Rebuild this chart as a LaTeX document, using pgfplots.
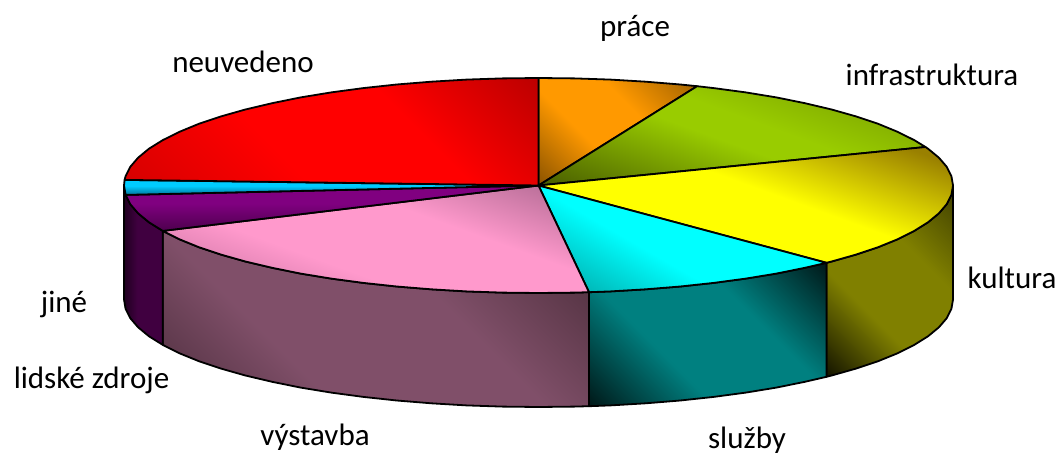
\documentclass[border=0pt]{standalone}
\usepackage{pgfplots}
\pgfplotsset{compat=1.18}
\usepackage{fontspec}
\setmainfont{Carlito}
% multi-stop shadings, lower left to upper right
\pgfdeclareverticalshading{sred}{100bp}{rgb(0bp)=(.84,0,0);rgb(15bp)=(.84,0,0);rgb(40bp)=(1,0,0);rgb(62bp)=(1,0,0);rgb(85bp)=(.74,0,0);rgb(100bp)=(.74,0,0)}
\pgfdeclareverticalshading{sorange}{100bp}{rgb(0bp)=(.55,.33,0);rgb(15bp)=(.55,.33,0);rgb(40bp)=(1,.6,0);rgb(60bp)=(1,.6,0);rgb(85bp)=(.62,.38,0);rgb(100bp)=(.62,.38,0)}
\pgfdeclareverticalshading{sgreen}{100bp}{rgb(0bp)=(.28,.36,0);rgb(18bp)=(.28,.36,0);rgb(48bp)=(.6,.8,0);rgb(56bp)=(.6,.8,0);rgb(78bp)=(.47,.62,0);rgb(100bp)=(.47,.62,0)}
\pgfdeclareverticalshading{syellow}{100bp}{rgb(0bp)=(1,1,0);rgb(55bp)=(1,1,0);rgb(78bp)=(.6,.5,0);rgb(100bp)=(.6,.5,0)}
\pgfdeclareverticalshading{scyan}{100bp}{rgb(0bp)=(0,.65,.65);rgb(18bp)=(0,.65,.65);rgb(42bp)=(0,1,1);rgb(100bp)=(0,1,1)}
\pgfdeclareverticalshading{spink}{100bp}{rgb(0bp)=(.75,.42,.6);rgb(18bp)=(.75,.42,.6);rgb(40bp)=(1,.6,.8);rgb(60bp)=(1,.6,.8);rgb(80bp)=(.7,.42,.58);rgb(100bp)=(.7,.42,.58)}
\pgfdeclareverticalshading{spurple}{100bp}{rgb(0bp)=(.3,0,.3);rgb(25bp)=(.3,0,.3);rgb(55bp)=(.5,0,.5);rgb(100bp)=(.5,0,.5)}
\pgfdeclareverticalshading{sblue}{100bp}{rgb(0bp)=(0,.45,.6);rgb(25bp)=(0,.45,.6);rgb(55bp)=(0,.8,1);rgb(100bp)=(0,.8,1)}
\pgfdeclareverticalshading{solive}{100bp}{rgb(0bp)=(.08,.08,0);rgb(15bp)=(.08,.08,0);rgb(38bp)=(.5,.5,0);rgb(62bp)=(.5,.5,0);rgb(85bp)=(.25,.25,0);rgb(100bp)=(.25,.25,0)}
\pgfdeclareverticalshading{steal}{100bp}{rgb(0bp)=(0,.1,.1);rgb(15bp)=(0,.1,.1);rgb(38bp)=(0,.5,.5);rgb(62bp)=(0,.5,.5);rgb(85bp)=(0,.1,.1);rgb(100bp)=(0,.1,.1)}
\pgfdeclareverticalshading{smauve}{100bp}{rgb(0bp)=(.3,.18,.24);rgb(15bp)=(.3,.18,.24);rgb(35bp)=(.5,.31,.41);rgb(60bp)=(.5,.31,.41);rgb(80bp)=(.33,.2,.26);rgb(100bp)=(.33,.2,.26)}
\pgfdeclarehorizontalshading{sdpurple}{100bp}{rgb(0bp)=(.12,0,.12);rgb(25bp)=(.12,0,.12);rgb(42bp)=(.25,0,.25);rgb(100bp)=(.25,0,.25)}
\begin{document}
\begin{tikzpicture}
\useasboundingbox (0,0) rectangle (1062pt,457pt);
\begin{axis}[
  at={(0,0)}, anchor=south west,
  scale only axis, width=1062pt, height=457pt,
  xmin=0, xmax=1062, ymin=0, ymax=457, y dir=reverse,
  hide axis, clip=false,
  every axis plot/.append style={draw=black, line width=1.8pt, line join=round, mark=none, solid},
]
% --- sides (same rim points, 114 lower) ---
\addplot[shading=solive, shading angle=-45] coordinates {(953,185.5)(951.4,194.9)(946.7,204.2)(938.9,213.3)(928,222.3)(914.2,230.9)(897.5,239.3)(878.1,247.2)(856,254.6)(831.6,261.5)(826.5,262.8)
 (826.5,376.8)(831.6,375.5)(856,368.6)(878.1,361.2)(897.5,353.3)(914.2,344.9)(928,336.3)(938.9,327.3)(946.7,318.2)(951.4,308.9)(953,299.5)} -- cycle;
\addplot[shading=steal, shading angle=-45] coordinates {(826.5,262.8)(804.9,267.8)(776.3,273.6)(745.8,278.6)(713.7,282.9)(680.3,286.5)(645.8,289.3)(610.5,291.4)(589,292.2)
 (589,406.2)(610.5,405.4)(645.8,403.3)(680.3,400.5)(713.7,396.9)(745.8,392.6)(776.3,387.6)(804.9,381.8)(826.5,376.8)} -- cycle;
\addplot[shading=smauve, shading angle=-45] coordinates {(589,292.2)(574.6,292.6)(538.5,293)(502.4,292.6)(466.5,291.4)(431.2,289.3)(396.7,286.5)(363.3,282.9)(331.2,278.6)(300.7,273.6)(272.1,267.8)(245.4,261.5)(221,254.6)(198.9,247.2)(179.5,239.3)(162.8,230.9)
 (162.8,344.9)(179.5,353.3)(198.9,361.2)(221,368.6)(245.4,375.5)(272.1,381.8)(300.7,387.6)(331.2,392.6)(363.3,396.9)(396.7,400.5)(431.2,403.3)(466.5,405.4)(502.4,406.6)(538.5,407)(574.6,406.6)(589,406.2)} -- cycle;
\addplot[shading=sdpurple] coordinates {(162.8,230.9)(149,222.3)(138.1,213.3)(130.3,204.2)(125.6,194.9)(124,185.5)
 (124,299.5)(125.6,308.9)(130.3,318.2)(138.1,327.3)(149,336.3)(162.8,344.9)} -- cycle;
% --- top slices ---
\addplot[shading=sorange, shading angle=-45] coordinates {(538.5,185.5)(538.5,78)(574.6,78.4)(610.5,79.6)(645.8,81.7)(680.3,84.5)(697.1,86.2)} -- cycle;
\addplot[shading=sgreen, shading angle=-20] coordinates {(538.5,185.5)(697.1,86.2)(713.7,88.1)(745.8,92.4)(776.3,97.4)(804.9,103.2)(831.6,109.5)(856,116.4)(878.1,123.8)(897.5,131.8)(914.2,140.1)(925.5,147)} -- cycle;
\addplot[shading=syellow, shading angle=-20] coordinates {(538.5,185.5)(925.5,147)(928,148.7)(938.9,157.7)(946.7,166.8)(951.4,176.1)(953,185.5)(951.4,194.9)(946.7,204.2)(938.9,213.3)(928,222.3)(914.2,230.9)(897.5,239.3)(878.1,247.2)(856,254.6)(831.6,261.5)(826.5,262.8)} -- cycle;
\addplot[shading=scyan, shading angle=-30] coordinates {(538.5,185.5)(826.5,262.8)(804.9,267.8)(776.3,273.6)(745.8,278.6)(713.7,282.9)(680.3,286.5)(645.8,289.3)(610.5,291.4)(589,292.2)} -- cycle;
\addplot[shading=spink, shading angle=-20] coordinates {(538.5,185.5)(589,292.2)(574.6,292.6)(538.5,293)(502.4,292.6)(466.5,291.4)(431.2,289.3)(396.7,286.5)(363.3,282.9)(331.2,278.6)(300.7,273.6)(272.1,267.8)(245.4,261.5)(221,254.6)(198.9,247.2)(179.5,239.3)(162.8,230.9)} -- cycle;
\addplot[shading=spurple] coordinates {(538.5,185.5)(162.8,230.9)(149,222.3)(138.1,213.3)(130.3,204.2)(125.6,194.9)} -- cycle;
\addplot[shading=sblue] coordinates {(538.5,185.5)(125.6,194.9)(124,185.5)(124.6,179.9)} -- cycle;
\addplot[shading=sred, shading angle=-45] coordinates {(538.5,185.5)(124.6,179.9)(125.6,176.1)(130.3,166.8)(138.1,157.7)(149,148.7)(162.8,140.1)(179.5,131.8)(198.9,123.8)(221,116.4)(245.4,109.5)(272.1,103.2)(300.7,97.4)(331.2,92.4)(363.3,88.1)(396.7,84.5)(431.2,81.7)(466.5,79.6)(502.4,78.4)(538.5,78)} -- cycle;
% --- labels ---
\tikzset{lab/.style={font=\fontsize{31}{34}\selectfont, text=black, inner sep=0pt, anchor=center}}
\node[lab] at (axis cs:635,28) {práce};
\node[lab] at (axis cs:932,75) {infrastruktura};
\node[lab] at (axis cs:243,62) {neuvedeno};
\node[lab] at (axis cs:1012,278) {kultura};
\node[lab] at (axis cs:64,304) {jiné};
\node[lab] at (axis cs:91.5,380) {lidské zdroje};
\node[lab] at (axis cs:315,437) {výstavba};
\node[lab] at (axis cs:747,440) {služby};
\end{axis}
\end{tikzpicture}
\end{document}
